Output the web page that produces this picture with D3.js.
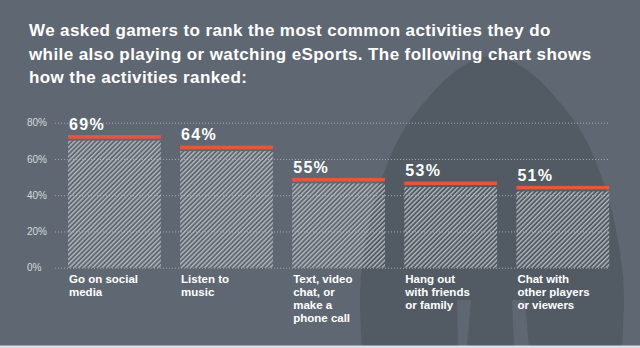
<!DOCTYPE html>
<html>
<head>
<meta charset="utf-8">
<script src="https://cdn.jsdelivr.net/npm/d3@7"></script>
<style>
  html, body { margin: 0; padding: 0; background: #5f6872; }
  svg { display: block; }
  text { font-family: "Liberation Sans", Arial, Helvetica, sans-serif; }
</style>
</head>
<body>
<svg id="chart" width="640" height="348"></svg>
<script>
// ---- data ----
const titleLines = [
  "We asked gamers to rank the most common activities they do",
  "while also playing or watching eSports. The following chart shows",
  "how the activities ranked:"
];
const categories = [
  "Go on social\nmedia",
  "Listen to\nmusic",
  "Text, video\nchat, or\nmake a\nphone call",
  "Hang out\nwith friends\nor family",
  "Chat with\nother players\nor viewers"
];
const labelValues = [69, 64, 55, 53, 51];          // printed percentages
const barValues = [70.1, 64.3, 46.5, 44.5, 42.1];  // drawn bar heights
const yTicks = [0, 20, 40, 60, 80];

// ---- layout ----
const W = 640, H = 348;
const svg = d3.select("#chart");
const C = {
  bg: "#5f6872", dome: "#525b64", red: "#e9553c",
  hatch: "#bcc1c5", grid: "#a3abb1", tick: "#d6dadd", white: "#ffffff"
};

svg.append("rect").attr("width", W).attr("height", H).attr("fill", C.bg);

// decorative silhouette
const domePts = [[362,348],[360,300],[362,267],[375,200],[398,140],[418,110],[445,80],[468,63],[492,56],
                 [516,63],[539,80],[566,110],[586,140],[609,200],[622,267],[624,300],[622,348]];
svg.append("path")
  .attr("d", d3.line().curve(d3.curveCatmullRom.alpha(0.5))(domePts) + "Z")
  .attr("fill", C.dome);
// lighter cut-outs near the base
svg.append("path")
  .attr("d", "M457,300 L471,300 L467,348 L458,348 Z M512,300 L525,300 L529,348 L514,348 Z")
  .attr("fill", C.bg);

// bottom strip
svg.append("rect").attr("x", 0).attr("y", 345.5).attr("width", W).attr("height", 3).attr("fill", "#dde1e3");

// title
svg.append("g").selectAll("text").data(titleLines).join("text")
  .attr("x", 29).attr("y", (d, i) => 36 + i * 23.5)
  .attr("fill", C.white).attr("font-size", 17).attr("font-weight", "bold")
  .attr("letter-spacing", 0.4)
  .text(d => d);

// scales
const x = d3.scaleBand().domain(categories).range([68, 609.2]).paddingInner(0.172).paddingOuter(0);
const y = d3.scaleLinear().domain([0, 80]).range([267.7, 122.7]);

// hatch pattern
const defs = svg.append("defs");
const pat = defs.append("pattern").attr("id", "hatch")
  .attr("patternUnits", "userSpaceOnUse").attr("width", 3.3).attr("height", 3.3)
  .attr("patternTransform", "rotate(45)");
pat.append("line").attr("x1", 0.7).attr("y1", 0).attr("x2", 0.7).attr("y2", 3.3)
  .attr("stroke", C.hatch).attr("stroke-width", 1.25);

// grid + y tick labels via axis
const yAxis = d3.axisLeft(y).tickValues(yTicks).tickSize(-(609.2 - 55)).tickPadding(0)
  .tickFormat(d => d + "%");
const gAxis = svg.append("g").attr("transform", "translate(55,0)").call(yAxis);
gAxis.select(".domain").remove();
gAxis.selectAll(".tick line").attr("stroke", C.grid).attr("stroke-width", 1)
  .attr("stroke-dasharray", "1,2");
gAxis.selectAll(".tick text").attr("x", -28).attr("dy", "0.32em").attr("text-anchor", "start")
  .attr("fill", C.tick).attr("font-size", 10).attr("font-family", "Liberation Sans, Arial, sans-serif");

// bars
const bars = svg.append("g").selectAll("g").data(categories).join("g");
bars.append("rect")
  .attr("x", d => x(d)).attr("width", x.bandwidth())
  .attr("y", (d, i) => y(barValues[i]))
  .attr("height", (d, i) => y(0) - y(barValues[i]))
  .attr("fill", "url(#hatch)");
bars.append("rect")
  .attr("x", d => x(d)).attr("width", x.bandwidth())
  .attr("y", (d, i) => y(barValues[i]) - 5.5)
  .attr("height", 3.6)
  .attr("fill", C.red);
bars.append("text")
  .attr("x", d => x(d) + 1)
  .attr("y", (d, i) => y(barValues[i]) - 10.8)
  .attr("fill", C.white).attr("font-size", 16).attr("font-weight", "bold")
  .attr("letter-spacing", 1.3)
  .text((d, i) => labelValues[i] + "%");

// category labels
bars.append("text")
  .attr("fill", C.white).attr("font-size", 11.5).attr("font-weight", "bold")
  .each(function(d) {
    const t = d3.select(this);
    d.split("\n").forEach((line, j) => {
      t.append("tspan").attr("x", x(d) + 1).attr("y", 282.7 + j * 13.2).text(line);
    });
  });
</script>
</body>
</html>
